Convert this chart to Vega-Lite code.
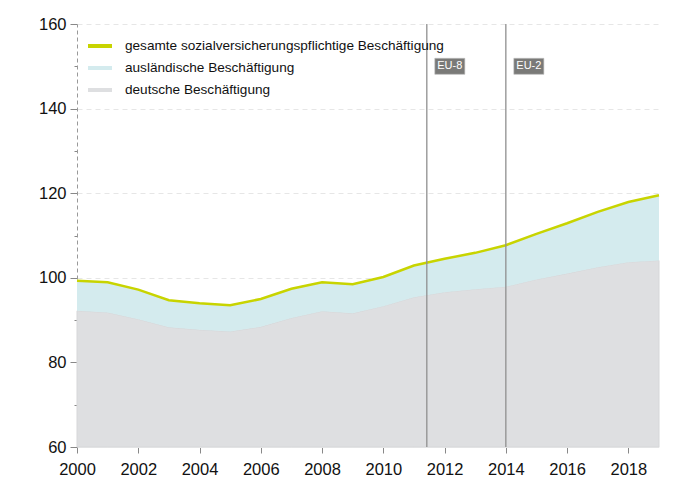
{
  "$schema": "https://vega.github.io/schema/vega-lite/v6.json",
  "autosize": "none",
  "width": 582,
  "height": 423,
  "padding": {"left": 77, "top": 24, "right": 22, "bottom": 46},
  "background": "white",
  "config": {
    "view": {"stroke": null},
    "font": "Liberation Sans",
    "axis": {"labelFont": "Liberation Sans", "labelColor": "#111111", "labelFontSize": 16.5, "tickColor": "#888888", "titleFontSize": 12}
  },
  "datasets": {
    "series": [
      {"year": 2000, "gesamt": 99.3, "deutsch": 92.2},
      {"year": 2001, "gesamt": 98.95, "deutsch": 91.8},
      {"year": 2002, "gesamt": 97.2, "deutsch": 90.2},
      {"year": 2003, "gesamt": 94.7, "deutsch": 88.3},
      {"year": 2004, "gesamt": 94.0, "deutsch": 87.7},
      {"year": 2005, "gesamt": 93.5, "deutsch": 87.3},
      {"year": 2006, "gesamt": 95.0, "deutsch": 88.4},
      {"year": 2007, "gesamt": 97.4, "deutsch": 90.5},
      {"year": 2008, "gesamt": 98.95, "deutsch": 92.1},
      {"year": 2009, "gesamt": 98.5, "deutsch": 91.6},
      {"year": 2010, "gesamt": 100.2, "deutsch": 93.3},
      {"year": 2011, "gesamt": 102.9, "deutsch": 95.4},
      {"year": 2012, "gesamt": 104.5, "deutsch": 96.6},
      {"year": 2013, "gesamt": 105.9, "deutsch": 97.3},
      {"year": 2014, "gesamt": 107.7, "deutsch": 97.9},
      {"year": 2015, "gesamt": 110.4, "deutsch": 99.6},
      {"year": 2016, "gesamt": 112.9, "deutsch": 101.0},
      {"year": 2017, "gesamt": 115.6, "deutsch": 102.5},
      {"year": 2018, "gesamt": 117.9, "deutsch": 103.7},
      {"year": 2019, "gesamt": 119.5, "deutsch": 104.1}
    ],
    "events": [
      {"date": 2011.42, "label": "EU-8"},
      {"date": 2014.0, "label": "EU-2"}
    ]
  },
  "layer": [
    {
      "data": {"name": "series"},
      "mark": {"type": "area", "stroke": "#d6d7d9", "strokeWidth": 1},
      "encoding": {
        "x": {"field": "year", "type": "quantitative", "scale": {"domain": [2000, 2019], "nice": false},
          "axis": {"title": null, "values": [2000,2001,2002,2003,2004,2005,2006,2007,2008,2009,2010,2011,2012,2013,2014,2015,2016,2017,2018,2019],
            "labelExpr": "datum.value % 2 === 0 ? datum.label : ''", "format": "d",
            "tickSize": {"condition": {"test": "datum.value % 2 === 0", "value": 6}, "value": 3},
            "labelPadding": 8, "domainColor": "#eeeeee", "grid": false, "labelFlush": false}},
        "y": {"field": "deutsch", "type": "quantitative", "scale": {"domain": [60, 160], "nice": false, "zero": false},
          "axis": {"title": null, "values": [60,70,80,90,100,110,120,130,140,150,160],
            "labelExpr": "datum.value % 20 === 0 ? datum.label : ''",
            "tickSize": {"condition": {"test": "datum.value % 20 === 0", "value": 7}, "value": 3},
            "labelPadding": 4, "domainColor": "#999999", "domainDash": [4, 3],
            "grid": true, "gridColor": "#e6e6e6", "gridDash": [5, 4],
            "gridOpacity": {"condition": {"test": "datum.value % 20 === 0 && datum.value > 60", "value": 1}, "value": 0}}},
        "y2": {"datum": 60},
        "color": {"datum": "deutsche Beschäftigung"}
      }
    },
    {
      "data": {"name": "series"},
      "mark": {"type": "area"},
      "encoding": {
        "x": {"field": "year", "type": "quantitative"},
        "y": {"field": "gesamt", "type": "quantitative"},
        "y2": {"field": "deutsch"},
        "color": {"datum": "ausländische Beschäftigung"}
      }
    },
    {
      "data": {"name": "series"},
      "mark": {"type": "line", "strokeWidth": 2.5},
      "encoding": {
        "x": {"field": "year", "type": "quantitative"},
        "y": {"field": "gesamt", "type": "quantitative"},
        "color": {"datum": "gesamte sozialversicherungspflichtige Beschäftigung",
          "scale": {"domain": ["gesamte sozialversicherungspflichtige Beschäftigung", "ausländische Beschäftigung", "deutsche Beschäftigung"],
            "range": ["#c8d400", "#d4ebee", "#dedfe1"]},
          "legend": {"title": null, "orient": "none", "legendX": 9, "legendY": 8, "padding": 0,
            "symbolType": "stroke", "symbolSize": 576, "symbolStrokeWidth": 4,
            "labelFont": "Liberation Sans", "labelFontSize": 13.6, "labelColor": "#111111", "labelOffset": 11, "labelLimit": 500, "rowPadding": -2.5,
            "encode": {"symbols": {"update": {"stroke": {"scale": "color", "field": "value"}, "strokeWidth": {"value": 4}}}}}}
      }
    },
    {
      "data": {"name": "events"},
      "mark": {"type": "rule", "color": "#8f8f8f", "strokeWidth": 1.3},
      "encoding": {"x": {"field": "date", "type": "quantitative"}}
    },
    {
      "data": {"name": "events"},
      "mark": {"type": "point", "shape": "M-1,-0.533H1V0.533H-1Z", "size": 900, "filled": true, "fill": "#7a7a78", "stroke": "#bbbbbb", "strokeWidth": 0.6, "opacity": 1, "xOffset": 23},
      "encoding": {"x": {"field": "date", "type": "quantitative"}, "y": {"datum": 150}}
    },
    {
      "data": {"name": "events"},
      "mark": {"type": "text", "color": "white", "fontSize": 11, "font": "Liberation Sans", "dx": 23, "baseline": "middle", "align": "center"},
      "encoding": {"x": {"field": "date", "type": "quantitative"}, "y": {"datum": 150}, "text": {"field": "label"}}
    }
  ]
}
